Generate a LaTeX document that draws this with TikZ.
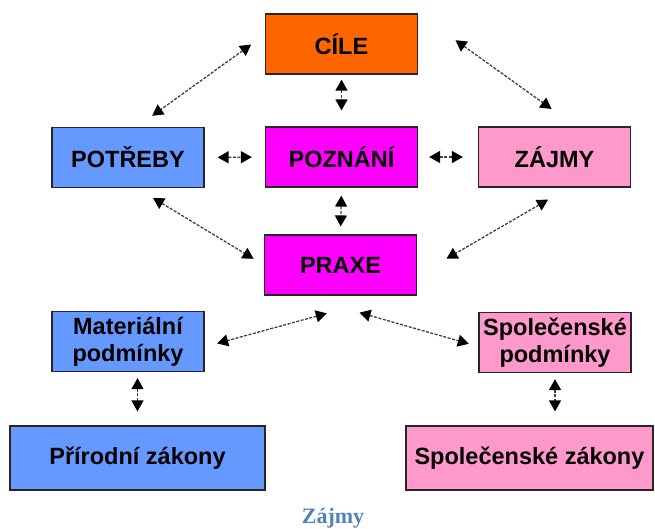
\documentclass[tikz,border=0pt]{standalone}
\usepackage{fontspec}
\setmainfont{Liberation Sans}
\newfontfamily\captionfont{Liberation Serif}
\usetikzlibrary{arrows.meta}

\definecolor{cileorange}{HTML}{FF6600}
\definecolor{boxblue}{HTML}{6699FF}
\definecolor{boxmagenta}{HTML}{FF00FF}
\definecolor{boxpink}{HTML}{FF99CC}
\definecolor{captionblue}{HTML}{4F81BD}

\tikzset{
  box/.style={draw=black!85, line width=1.2pt, minimum width=152pt, minimum height=60pt,
    inner sep=0pt, align=center, font=\fontsize{23.5}{27}\selectfont\bfseries},
  link/.style={draw=black!75, line width=1.3pt, dash pattern=on 3pt off 1.5pt,
    {Triangle[length=11pt,width=12pt,color=black]}-{Triangle[length=11pt,width=12pt,color=black]}}
}

\begin{document}
\begin{tikzpicture}[x=1pt, y=-1pt]
        \useasboundingbox (0,0) rectangle (655,528);

        \node[box, fill=cileorange] (cile) at (341.5, 44) {CÍLE};
        \node[box, fill=boxblue] (potreby) at (128, 157.5) {POTŘEBY};
        \node[box, fill=boxmagenta] (poznani) at (341.5, 157) {POZNÁNÍ};
        \node[box, fill=boxpink] (zajmy) at (554.5, 157) {ZÁJMY};
        \node[box, fill=boxmagenta] (praxe) at (340.5, 265) {PRAXE};
        \node[box, fill=boxblue] (materialni) at (128, 341.5) {Materiální\\podmínky};
        \node[box, fill=boxpink] (spolpodm) at (555, 342.5) {Společenské\\podmínky};
        \node[box, fill=boxblue, minimum width=255pt, minimum height=64pt] (prirodni) at (137.5, 458) {Přírodní zákony};
        \node[box, fill=boxpink, minimum width=247pt, minimum height=64pt] (spolzak) at (529.5, 458) {Společenské zákony};

        \node[font=\captionfont\fontsize{22}{26}\selectfont\bfseries, text=captionblue, anchor=base] (caption) at (333, 523) {Zájmy};

        \draw [link, shorten <=17pt, shorten >=19pt] (cile.173) -- (potreby.74);
        \draw [link, shorten <=46pt, shorten >=30pt] (cile.north east) -- (zajmy.55);
        \draw [link, shorten <=5pt, shorten >=16pt] (cile.south) -- (poznani.north);
        \draw [link, shorten <=13pt, shorten >=13pt] (potreby.east) -- (poznani.west);
        \draw [link, shorten <=11pt, shorten >=15pt] (poznani.east) -- (zajmy.west);
        \draw [link, shorten <=8pt, shorten >=8pt] (poznani.south) -- (praxe.north);
        \draw [link, shorten <=19pt, shorten >=12pt] (potreby.286) -- (praxe.west);
        \draw [link, shorten <=24pt, shorten >=34pt] (zajmy.295) -- (praxe.352);
        \draw [link, shorten <=67pt, shorten >=13pt] (praxe.329) -- (materialni.356);
        \draw [link, shorten <=62pt, shorten >=10pt] (praxe.217) -- (spolpodm.183);
        \draw [link, shorten <=6pt, shorten >=14pt] (prirodni.north |- materialni.south) -- (prirodni.north);
        \draw [link, shorten <=6pt, shorten >=14pt] (spolpodm.south) -- (spolpodm.south |- spolzak.north);
    \end{tikzpicture}
\end{document}
